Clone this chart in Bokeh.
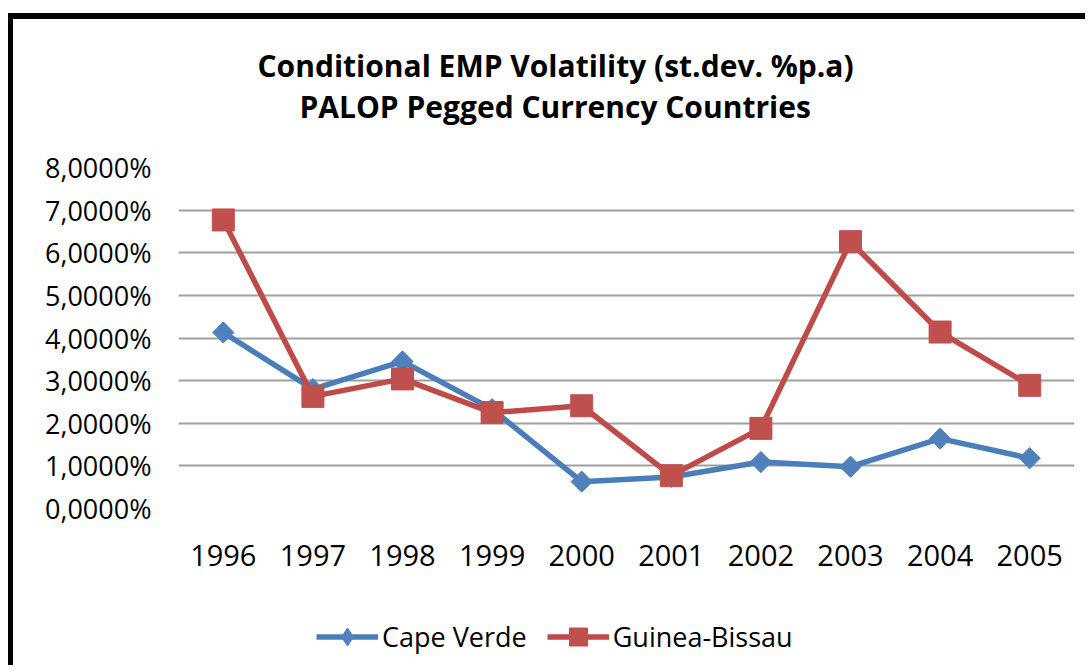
import math
from bokeh.plotting import figure
from bokeh.layouts import column
from bokeh.models import (FactorRange, Range1d, FixedTicker, Title, Legend, LegendItem)
from bokeh.embed import file_html
from bokeh.resources import INLINE

years = ["1996", "1997", "1998", "1999", "2000", "2001", "2002", "2003", "2004", "2005"]
cape_verde = [4.13, 2.80, 3.45, 2.33, 0.63, 0.74, 1.09, 0.98, 1.64, 1.18]
guinea_bissau = [6.77, 2.63, 3.04, 2.25, 2.41, 0.77, 1.88, 6.26, 4.14, 2.89]
y_ticks = [0, 1, 2, 3, 4, 5, 6, 7, 8]
y_tick_labels = ["0,0000%", "1,0000%", "2,0000%", "3,0000%", "4,0000%",
                 "5,0000%", "6,0000%", "7,0000%", "8,0000%"]
title_lines = ["Conditional EMP Volatility (st.dev. %p.a)", "PALOP Pegged Currency Countries"]
series_names = ["Cape Verde", "Guinea-Bissau"]

blue_line, blue_mark = "#4A7EBB", "#4F81BD"
red_line, red_mark = "#BE4B48", "#C0504D"

p = figure(x_range=FactorRange(*years), y_range=Range1d(0, 8),
           width=1077, height=581, output_backend="svg", toolbar_location=None,
           min_border_left=165, min_border_right=16, min_border_top=148, min_border_bottom=92,
           styles={"border-left": "5px solid black", "border-top": "6px solid black",
                   "margin-left": "8px", "margin-top": "13px"})
p.outline_line_color = None
p.background_fill_color = "white"
p.border_fill_color = "white"

# spacer and titles (added nearest-to-plot first)
spacer = Title(text=" ", text_font_size="1px", standoff=36)
t2 = Title(text=title_lines[1], align="left", text_font="Open Sans", text_font_size="30px",
           text_font_style="bold", text_color="black", standoff=4, offset=121)
t1 = Title(text=title_lines[0], align="left", text_font="Open Sans", text_font_size="30px",
           text_font_style="bold", text_color="black", standoff=-8, offset=79)
p.add_layout(spacer, "above")
p.add_layout(t2, "above")
p.add_layout(t1, "above")

p.yaxis.ticker = FixedTicker(ticks=y_ticks)
p.yaxis.major_label_overrides = {t: l for t, l in zip(y_ticks, y_tick_labels)}
p.yaxis.axis_line_color = None
p.yaxis.major_tick_line_color = None
p.yaxis.minor_tick_line_color = None
p.yaxis.major_label_standoff = 21
p.yaxis.major_label_text_font = "Open Sans"
p.yaxis.major_label_text_font_size = "27px"
p.yaxis.major_label_text_color = "black"

p.xaxis.axis_line_color = None
p.xaxis.major_tick_line_color = None
p.xaxis.major_label_standoff = 30
p.xaxis.major_label_text_font = "Open Sans"
p.xaxis.major_label_text_font_size = "29px"
p.xaxis.major_label_text_color = "black"

p.xgrid.grid_line_color = None
p.ygrid.grid_line_color = "#a0a0a0"
p.ygrid.grid_line_width = 2
p.ygrid.ticker = FixedTicker(ticks=y_ticks)

p.line(years, cape_verde, line_color=blue_line, line_width=5.5)
p.scatter(years, cape_verde, marker="square", angle=math.pi / 4, size=15,
          fill_color=blue_mark, line_color=blue_mark)
p.line(years, guinea_bissau, line_color=red_line, line_width=5.5)
p.scatter(years, guinea_bissau, marker="square", size=22, fill_color=red_mark,
          line_color=red_mark)

# legend strip below the chart (its renderers sit outside its visible range)
lf = figure(width=1077, height=71, output_backend="svg", toolbar_location=None,
            x_range=Range1d(0, 1), y_range=Range1d(0, 1), min_border=0,
            x_axis_location=None, y_axis_location=None,
            styles={"border-left": "5px solid black", "margin-left": "8px"})
lf.grid.visible = False
lf.outline_line_color = None
lf.border_fill_color = "white"
off = [-10, -9]
ll1 = lf.line(x=off, y=off, line_color=blue_line, line_width=5.5)
lm1 = lf.scatter(x=off, y=off, marker="diamond", size=18,
                 fill_color=blue_mark, line_color=blue_mark)
ll2 = lf.line(x=off, y=off, line_color=red_line, line_width=5.5)
lm2 = lf.scatter(x=off, y=off, marker="square", size=22, fill_color=red_mark,
                 line_color=red_mark)
legend = Legend(items=[LegendItem(label=series_names[0], renderers=[ll1, lm1]),
                       LegendItem(label=series_names[1], renderers=[ll2, lm2])],
                orientation="horizontal", location=(138, 6),
                glyph_width=62, glyph_height=45, label_standoff=4, spacing=20,
                label_text_font="Open Sans", label_text_font_size="27px",
                label_text_color="black",
                border_line_color=None, background_fill_alpha=0, padding=0, margin=0)
lf.add_layout(legend, "center")

layout = column(p, lf, spacing=0)
open("out.html", "w").write(file_html(layout, INLINE))
